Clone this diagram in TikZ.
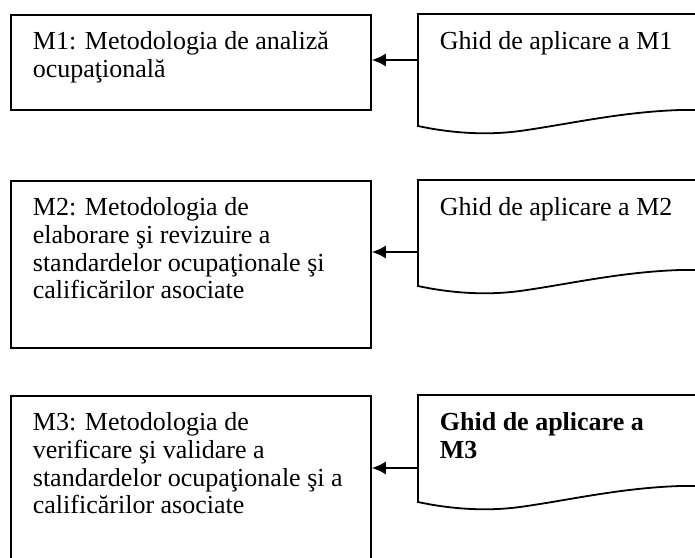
\documentclass[tikz,border=0pt]{standalone}
\usepackage{fontspec}
\setmainfont{Liberation Serif}
\usetikzlibrary{arrows.meta,calc,positioning}

\begin{document}
\begin{tikzpicture}[x=0.5pt,y=0.5pt,line width=0.9pt]
%% box and text styles
\tikzstyle{metbox}=[rectangle,draw=black,anchor=north west,minimum width=180pt,inner sep=0pt]
\tikzstyle{boxtext}=[anchor=north west,align=left,inner sep=0pt,font=\fontsize{13}{13.8}\selectfont]
\tikzstyle{boldtext}=[boxtext,font=\fontsize{13}{13.8}\selectfont\bfseries]

%% page frame
\useasboundingbox (0,0) rectangle (695,-557);
\clip (0,0) rectangle (695,-557);

%% nodes
% methodologies
\foreach \name/\ty/\h in {met1/14/47.5pt,met2/180/83.5pt,met3/395/95pt}
\node[metbox,minimum height=\h] (\name) at (10,-\ty) {};
\node[boxtext] (met1-text) at ($(met1.north west)+(22,-17)$) {M1: Metodologia de analiză\\ocupaţională};
\node[boxtext] (met2-text) at ($(met2.north west)+(22,-17)$) {M2: Metodologia de\\elaborare şi revizuire a\\standardelor ocupaţionale şi\\calificărilor asociate};
\node[boxtext] (met3-text) at ($(met3.north west)+(22,-17)$) {M3: Metodologia de\\verificare şi validare a\\standardelor ocupaţionale şi a\\calificărilor asociate};

% guides (document shapes)
\foreach \ty/\l in {14/112,180/106,395/107}
\draw (700,-\ty) -- (418,-\ty) -- (418,-\ty-\l)
  .. controls (455,-\ty-\l-8) and (490,-\ty-\l-9) .. (520,-\ty-\l-5)
  .. controls (570,-\ty-\l+2) and (620,-\ty-\l+14) .. (680,-\ty-\l+16) -- (700,-\ty-\l+16);
\node[boxtext] (ghid1) at (439,-31) {Ghid de aplicare a M1};
\node[boxtext] (ghid2) at (439,-197) {Ghid de aplicare a M2};
\node[boldtext] (ghid3) at (439,-412) {Ghid de aplicare a\\M3};

%% arrows
\foreach \name/\ay in {1/60,2/252,3/468}
\coordinate (in\name) at (418,-\ay);
\foreach \name in {1,2,3}
\draw[->,>={Latex[length=7pt,width=6.5pt]}] (in\name) -- (in\name -| met\name.east);
\end{tikzpicture}
\end{document}
